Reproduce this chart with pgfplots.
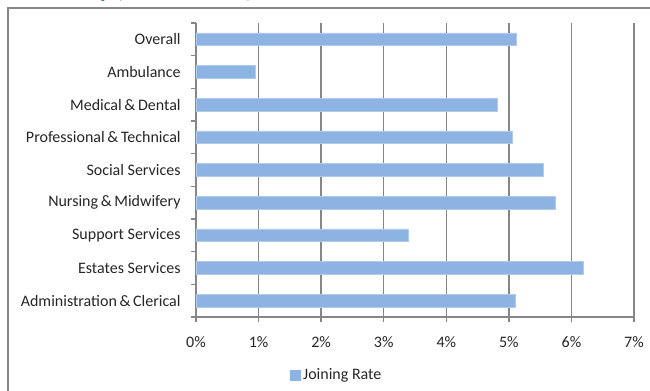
\documentclass[border=0pt]{standalone}
\usepackage{pgfplots}
\pgfplotsset{compat=1.18}
\usepackage{fontspec}
\setmainfont{Carlito}
\definecolor{barblue}{HTML}{8DB3E2}
\definecolor{gridgray}{HTML}{868686}
\definecolor{framegray}{HTML}{878787}
\definecolor{titleblue}{HTML}{1F4E8C}
\begin{document}
\begin{tikzpicture}[x=0.75pt,y=0.75pt]
\clip (0,0) rectangle (650,391);
% title, mostly cut off above the picture
\node[anchor=base east,font=\bfseries\fontsize{18}{20}\selectfont,text=titleblue,inner sep=0pt]
  at (253,393) {Turnover Summary (Year to Date)};
% outer chart frame
\draw[framegray,line width=1.1pt] (8,-20) rectangle (700,383);
\begin{axis}[
    at={(147pt,55.5pt)}, anchor=south west,
    scale only axis,
    width=328.5pt, height=220.5pt,
    xbar, bar width=9.6pt,
    xmin=0, xmax=7,
    ymin=-0.5, ymax=8.5,
    y dir=reverse,
    axis x line=bottom, axis y line=left,
    axis line style={-,gridgray,line width=1.1pt},
    xtick={0,...,7},
    xticklabels={0\%,1\%,2\%,3\%,4\%,5\%,6\%,7\%},
    ytick={0,...,8},
    yticklabels={Overall,Ambulance,Medical\,\&\,Dental,Professional\,\&\,Technical,Social Services,Nursing\,\&\,Midwifery,Support Services,Estates Services,Administration\,\&\,Clerical},
    minor ytick={-0.5,0.5,...,8.5},
    tick align=outside,
    major tick length=4pt,
    minor tick length=4pt,
    every tick/.style={gridgray,line width=1.1pt},
    major y tick style={draw=none},
    xmajorgrids,
    major grid style={gridgray,line width=1.1pt},
    tick label style={font=\fontsize{12}{14}\selectfont,text=black!85},
    /pgf/number format/assume math mode=true,
    xticklabel style={yshift=-7pt},
    yticklabel style={xshift=-4pt},
    legend style={at={(0.322,-0.197)},anchor=center,draw=none,fill=none,
      font=\fontsize{12}{14}\selectfont,text=black!85},
    legend image code/.code={\fill[barblue] (0pt,-3.75pt) rectangle (7.5pt,3.75pt);},
    legend cell align=left,
]
\addplot[fill=barblue,draw=barblue!70!white,line width=0.4pt] coordinates {
    (5.12,0)
    (0.94,1)
    (4.81,2)
    (5.05,3)
    (5.55,4)
    (5.74,5)
    (3.39,6)
    (6.19,7)
    (5.10,8)
};
\legend{Joining Rate}
\end{axis}
\end{tikzpicture}
\end{document}
